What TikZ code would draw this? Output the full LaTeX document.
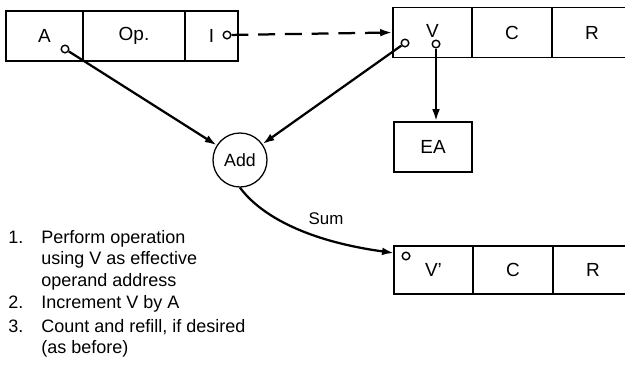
\documentclass[tikz,border=0pt]{standalone}
\usepackage{fontspec}
\setmainfont{Liberation Sans}
\usetikzlibrary{arrows.meta}
\tikzset{
  word cell/.style={
    rectangle, draw=black, line width=1.2pt, inner sep=0pt,
    minimum height=12.5mm, font=\fontsize{13.5}{15}\selectfont
  },
  port/.style={
    circle, draw=black, line width=1pt, fill=white, inner sep=0pt, minimum size=1.9mm
  },
  adder/.style={
    circle, draw=black, line width=0.9pt, fill=white, inner sep=0pt, minimum size=13.5mm,
    font=\fontsize{12.6}{14}\selectfont
  },
  link/.style={
    draw=black, line width=1.6pt, -{Latex[length=8.5pt,width=5.5pt]}
  },
  step text/.style={
    anchor=base west, inner sep=0pt, font=\fontsize{12.8}{15.3}\selectfont
  }
}

\begin{document}
\begin{tikzpicture}
\useasboundingbox (0,0) rectangle (15.625,-9.225);

% ------------------------------------------------
% instruction word: A | Op. | I
% ------------------------------------------------
\begin{scope}[shift={(0,-0.9)}]
  \node[word cell, minimum width=19.25mm] (aA)  at (1.1125,0) {\raisebox{-2pt}{A}};
  \node[word cell, minimum width=25.5mm]  (aOp) at (3.35,0)   {Op.};
  \node[word cell, minimum width=13.25mm] (aI)  at (5.2875,0) {I};
  \node[port] (aAp) at (1.625,-0.325) {};
  \node[port] (aIp) at (5.675, 0.025) {};
\end{scope}

% ------------------------------------------------
% index word: V | C | R, and effective address
% ------------------------------------------------
\begin{scope}[shift={(0,-0.8125)}]
  \node[word cell, minimum width=19.75mm] (vV) at (10.8125,0) {\raisebox{2pt}{V}};
  \node[word cell, minimum width=20mm]    (vC) at (12.8,0)    {C};
  \node[word cell, minimum width=20mm]    (vR) at (14.8,0)    {R};
  \node[port] (vVa) at (10.125,-0.2625) {};
  \node[port] (vVe) at (10.9,  -0.2875) {};
\end{scope}
\node[word cell, minimum width=19.5mm] (ea) at (10.825,-3.675) {EA};

% ------------------------------------------------
% adder and updated word: V' | C | R
% ------------------------------------------------
\node[adder] (add) at (6.0,-4.0) {Add};

\begin{scope}[shift={(0,-6.75)}]
  \node[word cell, minimum width=19.75mm, minimum height=12mm] (wV) at (10.8375,0) {\raisebox{-3pt}{V'}};
  \node[word cell, minimum width=20mm, minimum height=12mm]    (wC) at (12.825,0)  {C};
  \node[word cell, minimum width=20mm, minimum height=12mm]    (wR) at (14.825,0)  {R};
  \node[port] (wVp) at (10.15,0.35) {};
  \coordinate (wIn) at (9.85,0.425);
\end{scope}

\draw[link] (aAp) -- (add);
\draw[link] (vVa) -- (add);
\draw[link] (vVe) -- (vVe |- ea.north);
\draw[link, dash pattern=on 12pt off 7pt] (aIp) -- (vV.west);
\draw[link] (add.south) .. controls (6.45,-5.3) and (7.5,-6.0) .. (wIn);
\node[font=\fontsize{12}{14}\selectfont] (sum) at (8.15,-5.46) {Sum};

% ------------------------------------------------
% steps
% ------------------------------------------------
\node[step text] (item1) at (0.2,-6.075) {\begin{tabular}[t]{@{}p{23.5pt}@{}l@{}}
  1. & Perform operation\\ & using V as effective\\ & operand address\end{tabular}};
\node[step text] (item2) at (0.2,-7.7) {\begin{tabular}[t]{@{}p{23.5pt}@{}l@{}}
  2. & Increment V by A\end{tabular}};
\node[step text] (item3) at (0.2,-8.3) {\begin{tabular}[t]{@{}p{23.5pt}@{}l@{}}
  3. & Count and refill, if desired\\ & (as before)\end{tabular}};
\end{tikzpicture}
\end{document}
